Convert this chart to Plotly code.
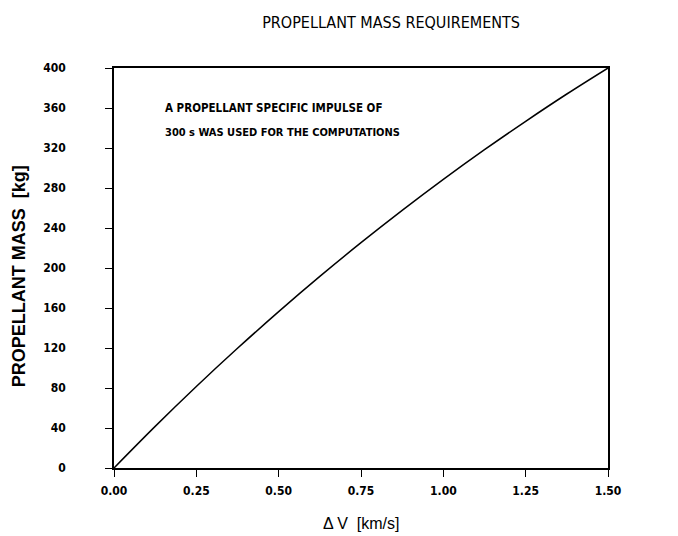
import plotly.graph_objects as go

delta_v = [0.0, 0.125, 0.25, 0.375, 0.5, 0.625, 0.75, 0.875, 1.0, 1.125, 1.25, 1.375, 1.5]
mass = [0.0, 41.6, 81.5, 119.7, 156.4, 191.6, 225.3, 257.6, 288.6, 318.3, 346.7, 374.0, 400.0]
x_ticks = [0.0, 0.25, 0.5, 0.75, 1.0, 1.25, 1.5]
x_labels = ["0.00", "0.25", "0.50", "0.75", "1.00", "1.25", "1.50"]
y_ticks = [0, 40, 80, 120, 160, 200, 240, 280, 320, 360, 400]

narrow = "Liberation Sans Narrow, DejaVu Sans Condensed, Arial Narrow, sans-serif"
regular = "Liberation Sans, Arial, Helvetica, sans-serif"

fig = go.Figure()
fig.add_trace(go.Scatter(x=delta_v, y=mass, mode="lines", line=dict(color="black", width=1.5),
                         line_shape="spline", showlegend=False))

fig.update_layout(
    width=678, height=536,
    margin=dict(l=106, r=78, t=60, b=76),
    paper_bgcolor="white", plot_bgcolor="white",
    title=dict(text="PROPELLANT MASS REQUIREMENTS", x=0.565, xanchor="center", y=0.973, yanchor="middle",
               font=dict(family=narrow, size=16, color="black")),
    font=dict(family=narrow, color="black"),
)
fig.update_xaxes(range=[0, 1.5], tickvals=x_ticks, ticktext=x_labels, ticks="outside", ticklen=7,
                 tickcolor="black", showline=True, linecolor="black", linewidth=1.5, mirror=True,
                 showgrid=False, zeroline=False, ticklabelstandoff=4,
                 tickfont=dict(family=narrow, size=12, color="black", weight="bold"))
fig.update_yaxes(range=[0, 400], tickvals=y_ticks, ticks="outside", ticklen=7,
                 tickcolor="black", showline=True, linecolor="black", linewidth=1.5, mirror=True,
                 showgrid=False, zeroline=False, ticklabelstandoff=37,
                 tickfont=dict(family=narrow, size=12, color="black", weight="bold"))
fig.add_annotation(xref="paper", yref="paper", x=0.5, y=-0.1375, xanchor="center", yanchor="middle",
                   text="Δ V  [km/s]", showarrow=False,
                   font=dict(family=regular, size=16, color="black"))
fig.add_annotation(xref="paper", yref="paper", x=-0.192, y=0.48, xanchor="center", yanchor="middle",
                   text="<b>PROPELLANT MASS  [kg]</b>", showarrow=False, textangle=-90,
                   font=dict(family=regular, size=18, color="black"))
fig.add_annotation(xref="paper", yref="paper", x=0.099, y=0.9, xanchor="left", yanchor="middle",
                   text="<b>A PROPELLANT SPECIFIC IMPULSE OF</b>", showarrow=False,
                   font=dict(family=narrow, size=11.5, color="black"))
fig.add_annotation(xref="paper", yref="paper", x=0.099, y=0.84, xanchor="left", yanchor="middle",
                   text="<b>300 s WAS USED FOR THE COMPUTATIONS</b>", showarrow=False,
                   font=dict(family=narrow, size=11, color="black"))

fig.write_html("out.html")
